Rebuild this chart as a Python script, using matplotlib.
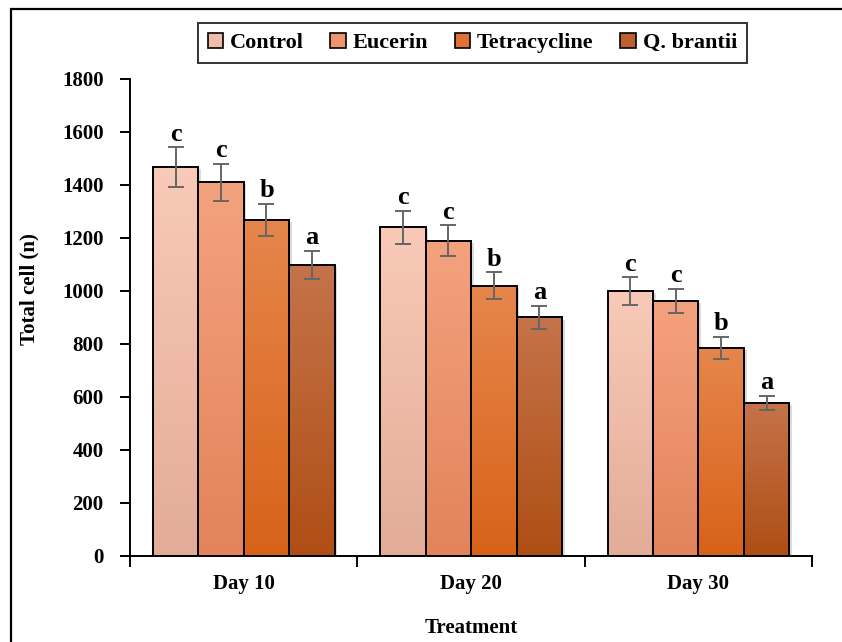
import matplotlib.pyplot as plt
import matplotlib.patches as patches
import matplotlib.colors as mcolors
import numpy as np

plt.rcParams['font.family'] = ['Liberation Serif', 'DejaVu Serif']
plt.rcParams['font.weight'] = 'bold'

days = ["Day 10", "Day 20", "Day 30"]
groups = ["Control", "Eucerin", "Tetracycline", "Q. brantii"]
values = {
    "Control":      [1468, 1240, 1000],
    "Eucerin":      [1411, 1190, 962],
    "Tetracycline": [1268, 1020, 785],
    "Q. brantii":   [1098, 900, 577],
}
errors = {
    "Control":      [74, 62, 52],
    "Eucerin":      [70, 58, 46],
    "Tetracycline": [62, 50, 42],
    "Q. brantii":   [54, 44, 28],
}
letters = ["c", "c", "b", "a"]

# gradient top / bottom colours per treatment
tops = ["#F8CAB7", "#F4A27E", "#E6864C", "#C5734A"]
bottoms = ["#E2AC97", "#E2835B", "#D86219", "#AF4E14"]
mids = ["#F2BCA8", "#EE956E", "#E17332", "#BC6030"]

fig = plt.figure(figsize=(8.42, 6.42), dpi=100)
ax = fig.add_axes([0.1545, 0.134, 0.81, 0.743])

# outer frame around the figure
fig.patches.append(patches.Rectangle((0.013, -0.02), 1.2, 1.006, transform=fig.transFigure,
                                     fill=False, edgecolor="black", linewidth=1.6))

width = 0.2
x = np.arange(len(days))
for i, g in enumerate(groups):
    cmap = mcolors.LinearSegmentedColormap.from_list(g, [bottoms[i], tops[i]])
    for j in range(len(days)):
        left = x[j] - 0.4 + i * width
        h = values[g][j]
        # soft shadow
        sh = patches.Rectangle((left + 0.012, -8), width, h, facecolor="#999999",
                               alpha=0.35, edgecolor="none", zorder=1)
        ax.add_patch(sh)
        rect = patches.Rectangle((left, 0), width, h, facecolor="none",
                                 edgecolor="black", linewidth=1.4, zorder=3)
        ax.add_patch(rect)
        grad = np.linspace(0, 1, 256).reshape(-1, 1)
        im = ax.imshow(grad, cmap=cmap, origin="lower", aspect="auto",
                       extent=[left, left + width, 0, h], zorder=2)
        im.set_clip_path(rect)
        ax.errorbar(left + width / 2, h, yerr=errors[g][j], fmt="none",
                    ecolor="#666666", elinewidth=1.4, capsize=6, capthick=1.4, zorder=4)
        ax.text(left + width / 2, h + errors[g][j] + 6, letters[i], ha="center",
                va="bottom", fontsize=19, fontweight="bold", zorder=5)

ax.set_xlim(-0.5, 2.5)
ax.set_ylim(0, 1800)
ax.set_yticks(range(0, 1801, 200))
ax.set_xticks(x)
ax.set_xticklabels(days, fontsize=15, fontweight="bold")
ax.tick_params(axis="y", labelsize=15, width=1.4, length=7, direction="out", pad=12)
ax.tick_params(axis="x", length=0, pad=13)
ax.set_xticks([-0.5, 0.5, 1.5, 2.5], minor=True)
ax.tick_params(axis="x", which="minor", length=8, width=1.4, direction="out")
for lbl in ax.get_yticklabels():
    lbl.set_fontweight("bold")

for s in ["top", "right"]:
    ax.spines[s].set_visible(False)
for s in ["left", "bottom"]:
    ax.spines[s].set_linewidth(1.4)

ax.set_xlabel("Treatment", fontsize=15, fontweight="bold", labelpad=17)
ax.set_ylabel("Total cell (n)", fontsize=15, fontweight="bold")
ax.yaxis.set_label_coords(-0.133, 0.56)

handles = [patches.Patch(facecolor=mids[i], edgecolor="black", linewidth=1.2)
           for i in range(len(groups))]
leg = fig.legend(handles, groups, loc="center", bbox_to_anchor=(0.561, 0.933), ncol=4,
                 frameon=True, fancybox=False, edgecolor="black",
                 prop={"weight": "bold", "size": 16}, handlelength=0.7, handleheight=0.7,
                 handletextpad=0.3, columnspacing=1.2, borderpad=0.45)
leg.get_frame().set_linewidth(1.4)

fig.savefig("out.png", dpi=100)
